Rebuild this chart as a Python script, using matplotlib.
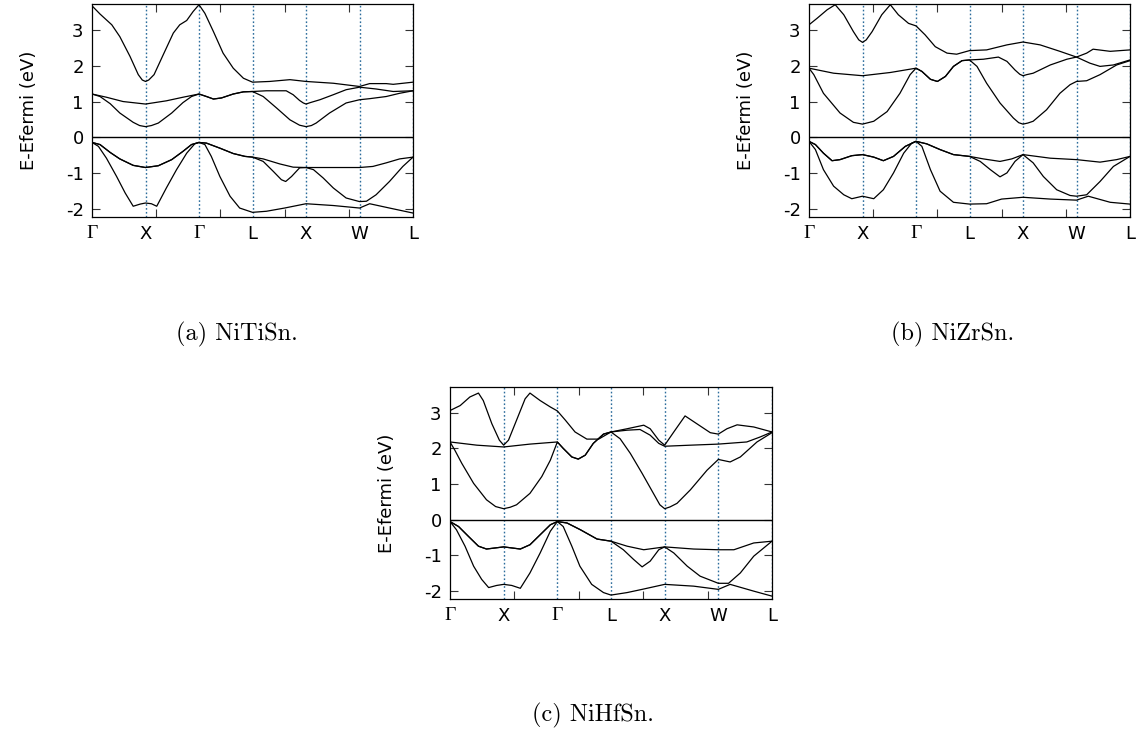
import numpy as np
import matplotlib
matplotlib.use("Agg")
import matplotlib.pyplot as plt

# k-path labels, positions are segment indices along the path
kpath_labels = ["Γ", "X", "Γ", "L", "X", "W", "L"]
kpath_pos = [0, 1, 2, 3, 4, 5, 6]
energy_ticks = [-2, -1, 0, 1, 2, 3]
captions = ["(a) NiTiSn.", "(b) NiZrSn.", "(c) NiHfSn."]

# ---- NiTiSn bands: (k, E) pairs ----
nitisn_bands = [
    [(0, 3.67), (0.15, 3.44), (0.37, 3.14), (0.52, 2.81), (0.71, 2.26), (0.865, 1.75), (0.94, 1.60),
     (1, 1.56), (1.06, 1.60), (1.16, 1.75), (1.33, 2.30), (1.52, 2.91), (1.64, 3.14), (1.77, 3.26),
     (1.89, 3.51), (2, 3.70), (2.11, 3.46), (2.27, 2.95), (2.45, 2.35), (2.64, 1.93), (2.83, 1.65),
     (3, 1.54), (3.32, 1.56), (3.70, 1.61), (4, 1.56), (4.51, 1.51), (5, 1.42), (5.19, 1.50),
     (5.5, 1.50), (5.63, 1.48), (6, 1.54)],
    [(0, 1.21), (0.27, 1.12), (0.58, 1.00), (1, 0.93), (1.39, 1.02), (1.70, 1.12), (2, 1.21),
     (2.14, 1.14), (2.27, 1.07), (2.42, 1.10), (2.64, 1.21), (2.83, 1.27), (3, 1.28),
     (3.26, 1.30), (3.63, 1.30), (3.76, 1.19), (3.88, 1.03), (3.95, 0.96), (4, 0.93), (4.08, 0.97),
     (4.26, 1.05), (4.51, 1.19), (4.75, 1.33), (5, 1.40), (5.31, 1.35), (5.63, 1.28), (6, 1.30)],
    [(0, 1.21), (0.15, 1.14), (0.34, 0.94), (0.52, 0.68), (0.77, 0.42), (0.89, 0.33), (1, 0.30),
     (1.11, 0.33), (1.24, 0.40), (1.49, 0.68), (1.70, 0.97), (1.86, 1.14), (2, 1.21), (2.14, 1.14),
     (2.27, 1.07), (2.42, 1.10), (2.64, 1.21), (2.83, 1.27), (3, 1.28), (3.2, 1.14), (3.45, 0.82),
     (3.70, 0.49), (3.88, 0.34), (4, 0.30), (4.1, 0.33), (4.19, 0.40), (4.44, 0.68), (4.75, 0.96),
     (5, 1.05), (5.19, 1.08), (5.5, 1.14), (5.75, 1.23), (6, 1.30)],
    [(0, -0.14), (0.15, -0.20), (0.34, -0.42), (0.52, -0.60), (0.77, -0.78), (1, -0.84), (1.24, -0.79),
     (1.49, -0.62), (1.70, -0.39), (1.86, -0.20), (2, -0.14), (2.14, -0.16), (2.39, -0.30),
     (2.64, -0.45), (2.86, -0.53), (3, -0.55), (3.2, -0.60), (3.51, -0.74), (3.76, -0.83), (4, -0.84),
     (4.51, -0.84), (5, -0.84), (5.25, -0.81), (5.5, -0.71), (5.75, -0.60), (6, -0.55)],
    [(0, -0.14), (0.15, -0.20), (0.34, -0.42), (0.52, -0.60), (0.77, -0.78), (1, -0.84), (1.24, -0.79),
     (1.49, -0.62), (1.70, -0.39), (1.86, -0.20), (2, -0.14), (2.14, -0.16), (2.39, -0.30),
     (2.64, -0.45), (2.86, -0.53), (3, -0.55), (3.2, -0.67), (3.39, -0.95), (3.54, -1.18),
     (3.62, -1.23), (3.73, -1.09), (3.88, -0.85), (4, -0.84), (4.14, -0.90), (4.32, -1.13),
     (4.51, -1.41), (4.75, -1.69), (5, -1.79), (5.13, -1.78), (5.31, -1.60), (5.56, -1.23),
     (5.81, -0.81), (6, -0.55)],
    [(0, -0.14), (0.12, -0.25), (0.27, -0.58), (0.46, -1.09), (0.62, -1.55), (0.77, -1.92),
     (0.90, -1.86), (1, -1.83), (1.11, -1.85), (1.21, -1.92), (1.39, -1.41), (1.58, -0.90),
     (1.77, -0.44), (1.92, -0.18), (2, -0.14), (2.11, -0.20), (2.23, -0.53), (2.39, -1.09),
     (2.58, -1.64), (2.76, -1.97), (3, -2.09), (3.26, -2.06), (3.60, -1.97), (4, -1.85),
     (4.51, -1.90), (5, -1.97), (5.19, -1.85), (5.56, -1.97), (6, -2.11)],
]

# ---- NiZrSn bands ----
nizrsn_bands = [
    [(0, 3.14), (0.15, 3.32), (0.34, 3.56), (0.49, 3.70), (0.65, 3.42), (0.83, 2.95), (0.93, 2.72),
     (1, 2.65), (1.07, 2.72), (1.18, 2.95), (1.36, 3.42), (1.52, 3.70), (1.67, 3.42), (1.86, 3.18),
     (2, 3.11), (2.17, 2.86), (2.36, 2.53), (2.58, 2.35), (2.76, 2.32), (3, 2.42), (3.32, 2.44),
     (3.70, 2.58), (4, 2.66), (4.32, 2.58), (4.69, 2.40), (5, 2.24), (5.19, 2.35), (5.31, 2.46),
     (5.63, 2.40), (6, 2.44)],
    [(0, 1.93), (0.46, 1.79), (1, 1.72), (1.52, 1.81), (2, 1.93), (2.11, 1.84), (2.27, 1.62),
     (2.40, 1.56), (2.55, 1.70), (2.70, 1.98), (2.86, 2.14), (3, 2.16), (3.26, 2.18), (3.54, 2.24),
     (3.70, 2.12), (3.85, 1.88), (3.94, 1.76), (4, 1.72), (4.07, 1.75), (4.19, 1.79), (4.51, 2.02),
     (4.82, 2.18), (5, 2.24), (5.25, 2.07), (5.44, 1.98), (5.69, 2.02), (6, 2.16)],
    [(0, 1.93), (0.09, 1.75), (0.27, 1.23), (0.58, 0.68), (0.83, 0.42), (1, 0.37), (1.21, 0.45),
     (1.46, 0.72), (1.70, 1.23), (1.89, 1.75), (2, 1.93), (2.11, 1.84), (2.27, 1.62), (2.40, 1.56),
     (2.55, 1.70), (2.70, 1.98), (2.86, 2.14), (3, 2.16), (3.14, 1.98), (3.32, 1.51), (3.57, 0.96),
     (3.82, 0.54), (3.92, 0.41), (4, 0.37), (4.09, 0.40), (4.19, 0.45), (4.44, 0.77), (4.69, 1.23),
     (4.88, 1.47), (5, 1.56), (5.19, 1.58), (5.44, 1.75), (5.75, 2.02), (6, 2.14)],
    [(0, -0.11), (0.12, -0.20), (0.27, -0.44), (0.43, -0.65), (0.58, -0.62), (0.80, -0.51), (1, -0.48),
     (1.21, -0.55), (1.39, -0.65), (1.58, -0.53), (1.80, -0.25), (2, -0.11), (2.20, -0.18),
     (2.45, -0.34), (2.70, -0.48), (3, -0.53), (3.26, -0.60), (3.57, -0.67), (3.79, -0.60), (4, -0.48),
     (4.51, -0.58), (5, -0.62), (5.44, -0.69), (5.75, -0.62), (6, -0.53)],
    [(0, -0.11), (0.12, -0.20), (0.27, -0.44), (0.43, -0.65), (0.58, -0.62), (0.80, -0.51), (1, -0.48),
     (1.21, -0.55), (1.39, -0.65), (1.58, -0.53), (1.80, -0.25), (2, -0.11), (2.20, -0.18),
     (2.45, -0.34), (2.70, -0.48), (3, -0.53), (3.20, -0.67), (3.39, -0.90), (3.57, -1.10),
     (3.70, -0.99), (3.85, -0.67), (4, -0.48), (4.19, -0.71), (4.38, -1.09), (4.63, -1.46),
     (4.88, -1.62), (5, -1.64), (5.19, -1.60), (5.44, -1.23), (5.69, -0.81), (6, -0.53)],
    [(0, -0.11), (0.12, -0.34), (0.27, -0.90), (0.46, -1.36), (0.65, -1.60), (0.80, -1.71), (1, -1.64),
     (1.21, -1.71), (1.39, -1.46), (1.58, -0.99), (1.77, -0.44), (1.92, -0.16), (2, -0.11),
     (2.11, -0.25), (2.27, -0.90), (2.45, -1.50), (2.70, -1.81), (3, -1.86), (3.32, -1.85),
     (3.60, -1.72), (4, -1.67), (4.51, -1.72), (5, -1.75), (5.22, -1.64), (5.63, -1.81), (6, -1.86)],
]

# ---- NiHfSn bands ----
nihfsn_bands = [
    [(0, 3.06), (0.19, 3.20), (0.37, 3.44), (0.53, 3.55), (0.62, 3.34), (0.78, 2.69), (0.92, 2.23),
     (1, 2.09), (1.09, 2.23), (1.24, 2.79), (1.40, 3.39), (1.49, 3.55), (1.68, 3.34), (1.87, 3.16),
     (2, 3.05), (2.15, 2.79), (2.33, 2.46), (2.55, 2.26), (2.77, 2.26), (3, 2.46), (3.30, 2.55),
     (3.61, 2.65), (3.73, 2.55), (3.89, 2.23), (4, 2.09), (4.17, 2.46), (4.38, 2.91), (4.60, 2.69),
     (4.85, 2.44), (5, 2.40), (5.16, 2.55), (5.35, 2.66), (5.66, 2.60), (6, 2.46)],
    [(0, 2.18), (0.50, 2.09), (1, 2.04), (1.49, 2.12), (2, 2.18), (2.11, 2.00), (2.27, 1.76),
     (2.39, 1.70), (2.52, 1.81), (2.67, 2.14), (2.86, 2.40), (3, 2.46), (3.30, 2.51), (3.54, 2.53),
     (3.73, 2.37), (3.89, 2.14), (4, 2.06), (4.48, 2.09), (5, 2.12), (5.53, 2.18), (5.78, 2.32),
     (6, 2.46)],
    [(0, 2.18), (0.09, 1.95), (0.22, 1.58), (0.44, 1.02), (0.68, 0.56), (0.85, 0.37), (1, 0.31),
     (1.12, 0.35), (1.24, 0.42), (1.49, 0.74), (1.71, 1.21), (1.87, 1.67), (2, 2.18), (2.11, 2.00),
     (2.27, 1.76), (2.39, 1.70), (2.52, 1.81), (2.67, 2.14), (2.86, 2.40), (3, 2.46), (3.17, 2.27),
     (3.36, 1.86), (3.58, 1.30), (3.79, 0.74), (3.91, 0.42), (4, 0.31), (4.1, 0.36), (4.23, 0.46),
     (4.48, 0.84), (4.79, 1.39), (5, 1.69), (5.22, 1.62), (5.41, 1.76), (5.72, 2.18), (6, 2.44)],
    [(0, -0.05), (0.16, -0.19), (0.34, -0.46), (0.53, -0.74), (0.68, -0.82), (1, -0.76), (1.31, -0.82),
     (1.49, -0.70), (1.68, -0.42), (1.87, -0.14), (2, -0.05), (2.18, -0.09), (2.43, -0.28),
     (2.74, -0.54), (3, -0.60), (3.30, -0.74), (3.61, -0.84), (4, -0.76), (4.54, -0.82), (5, -0.84),
     (5.29, -0.84), (5.66, -0.65), (6, -0.60)],
    [(0, -0.05), (0.16, -0.19), (0.34, -0.46), (0.53, -0.74), (0.68, -0.82), (1, -0.76), (1.31, -0.82),
     (1.49, -0.70), (1.68, -0.42), (1.87, -0.14), (2, -0.05), (2.18, -0.09), (2.43, -0.28),
     (2.74, -0.54), (3, -0.60), (3.23, -0.84), (3.42, -1.11), (3.58, -1.32), (3.73, -1.16),
     (3.89, -0.84), (4, -0.76), (4.17, -0.93), (4.42, -1.30), (4.66, -1.58), (5, -1.78),
     (5.19, -1.78), (5.41, -1.49), (5.66, -1.02), (6, -0.60)],
    [(0, -0.05), (0.12, -0.28), (0.28, -0.74), (0.44, -1.30), (0.59, -1.67), (0.72, -1.90),
     (0.87, -1.84), (1, -1.81), (1.15, -1.84), (1.31, -1.92), (1.49, -1.49), (1.68, -0.93),
     (1.87, -0.32), (2, -0.05), (2.11, -0.19), (2.27, -0.74), (2.42, -1.30), (2.64, -1.81),
     (2.86, -2.04), (3, -2.11), (3.30, -2.04), (3.58, -1.95), (4, -1.81), (4.54, -1.86), (5, -1.95),
     (5.22, -1.81), (5.66, -2.00), (6, -2.14)],
]

W, H = 1137, 733
fig = plt.figure(figsize=(W / 100, H / 100), dpi=100)


def px_axes(left, top, right, bottom):
    """Axes from pixel box (top-left origin)."""
    return fig.add_axes([left / W, 1 - bottom / H, (right - left) / W, (bottom - top) / H])


def draw_panel(ax, bands):
    for band in bands:
        k = [p[0] for p in band]
        e = [p[1] for p in band]
        ax.plot(k, e, color="black", lw=0.9)
    for k in kpath_pos[1:]:
        ax.axvline(k, color="#2b6c9c", lw=1.0, ls=(0, (1.2, 1.6)), zorder=0)
    ax.axhline(0, color="black", lw=1.0)
    ax.set_xlim(0, 6)
    ax.set_ylim(-2.22, 3.72)
    ax.set_yticks(energy_ticks)
    ax.set_yticklabels([str(t) for t in energy_ticks])
    # gnuplot-style numeric tics inside the frame (no labels)
    ax.set_xticks(np.linspace(0, 6, 6)[1:-1])
    ax.set_xticklabels([])
    ax.set_xticks(kpath_pos, kpath_labels, minor=True)
    ax.tick_params(which="major", direction="in", length=6, width=0.8, color="#333333",
                   top=True, right=True, labelsize=13, pad=6)
    ax.tick_params(which="minor", length=0, labelsize=13, pad=6)
    for lab in ax.get_xticklabels(minor=True):
        if lab.get_text() == "Γ":
            lab.set_fontfamily("Liberation Serif")
            lab.set_fontsize(14)
    ax.set_ylabel("E-Efermi (eV)", fontsize=13, labelpad=20)
    for s in ax.spines.values():
        s.set_linewidth(0.9)


ax_a = px_axes(92, 4, 413, 217)
ax_b = px_axes(809, 4, 1130, 217)
ax_c = px_axes(450, 387, 772, 599)
draw_panel(ax_a, nitisn_bands)
draw_panel(ax_b, nizrsn_bands)
draw_panel(ax_c, nihfsn_bands)

cap_font = dict(fontfamily="cmr10", fontsize=17.5, ha="center", va="center")
fig.text(237 / W, 1 - 334 / H, captions[0], **cap_font)
fig.text(953 / W, 1 - 334 / H, captions[1], **cap_font)
fig.text(593 / W, 1 - 715 / H, captions[2], **cap_font)

fig.savefig("out.png", dpi=100)
